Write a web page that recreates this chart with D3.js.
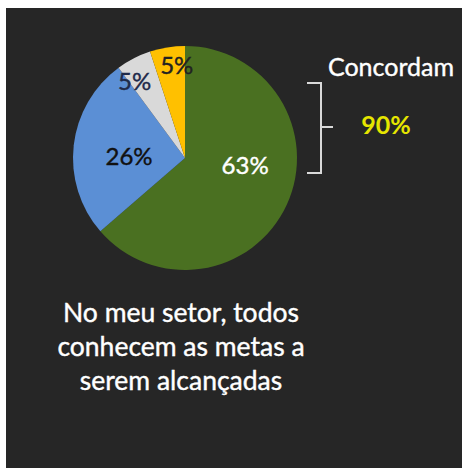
<!DOCTYPE html>
<html>
<head>
<meta charset="utf-8">
<script src="https://cdn.jsdelivr.net/npm/d3@7"></script>
<style>
  html, body { margin: 0; padding: 0; background: #fff; }
  svg { display: block; }
</style>
</head>
<body>
<div id="chart"></div>
<script>
// Data
var categories = ["Concordo totalmente", "Concordo", "Discordo", "Discordo totalmente"];
var values = [63, 26, 5, 5];
var colors = ["#4a7021", "#5b8fd5", "#d9d9d9", "#ffc000"];
var labelColors = ["#ffffff", "#111111", "#1f2a4a", "#222222"];
var agreeLabel = "Concordam";
var agreeValue = "90%";
var titleLines = ["No meu setor, todos", "conhecem as metas a", "serem alcançadas"];

var width = 462, height = 468;
var center = {x: 185, y: 158};
var radius = 112;
var font = "Lato, 'Open Sans', sans-serif";

var svg = d3.select("#chart").append("svg")
    .attr("width", width)
    .attr("height", height);

// dark panel
svg.append("rect")
    .attr("x", 6).attr("y", 8)
    .attr("width", width - 6).attr("height", height - 8)
    .attr("fill", "#262626");

var pie = d3.pie().sort(null).value(d => d.value);
var arc = d3.arc().innerRadius(0).outerRadius(radius);

var data = categories.map((c, i) => ({name: c, value: values[i], color: colors[i], lc: labelColors[i]}));
var arcs = pie(data);

var g = svg.append("g")
    .attr("transform", "translate(" + center.x + "," + center.y + ")");

g.selectAll("path")
    .data(arcs)
    .enter()
    .append("path")
    .attr("d", arc)
    .attr("fill", d => d.data.color);

// label placement: radius fraction and angle shift (degrees) from slice middle
var labelRadius = [0.54, 0.5, 0.82, 0.83];
var labelShift = [-18, -5, -6, 4];
g.selectAll("text")
    .data(arcs)
    .enter()
    .append("text")
    .attr("transform", (d, i) => {
        var r = radius * labelRadius[i];
        var a = (d.startAngle + d.endAngle) / 2 + labelShift[i] * Math.PI / 180;
        return "translate(" + (r * Math.sin(a)) + "," + (-r * Math.cos(a)) + ")";
    })
    .attr("dy", "0.36em")
    .attr("text-anchor", "middle")
    .attr("fill", d => d.data.lc)
    .attr("stroke", d => d.data.lc)
    .attr("stroke-width", 0.4)
    .style("font-family", font)
    .style("font-size", "24px")
    .text(d => d.data.value + "%");

// bracket
var bx = 321, by0 = 83, by1 = 173, bmid = 127;
var line = d3.line();
svg.append("path")
    .attr("d", line([[bx - 14, by0], [bx, by0], [bx, by1], [bx - 14, by1]]))
    .attr("fill", "none")
    .attr("stroke", "#d9d9d9")
    .attr("stroke-width", 2);
svg.append("path")
    .attr("d", line([[bx, bmid], [bx + 12, bmid]]))
    .attr("stroke", "#d9d9d9")
    .attr("stroke-width", 2);

svg.append("text")
    .attr("x", 391).attr("y", 76)
    .attr("text-anchor", "middle")
    .attr("fill", "#ffffff")
    .attr("stroke", "#ffffff")
    .attr("stroke-width", 0.4)
    .style("font-family", font)
    .style("font-size", "25px")
    .text(agreeLabel);

svg.append("text")
    .attr("x", 386).attr("y", 134)
    .attr("text-anchor", "middle")
    .attr("fill", "#e6e600")
    .style("font-family", font)
    .style("font-weight", "bold")
    .style("font-size", "25px")
    .text(agreeValue);

svg.append("g").selectAll("text")
    .data(titleLines)
    .enter()
    .append("text")
    .attr("x", 181)
    .attr("y", (d, i) => 322 + i * 34)
    .attr("text-anchor", "middle")
    .attr("fill", "#ffffff")
    .attr("stroke", "#ffffff")
    .attr("stroke-width", 0.4)
    .style("font-family", font)
    .style("font-size", "26.5px")
    .text(d => d);
</script>
</body>
</html>
